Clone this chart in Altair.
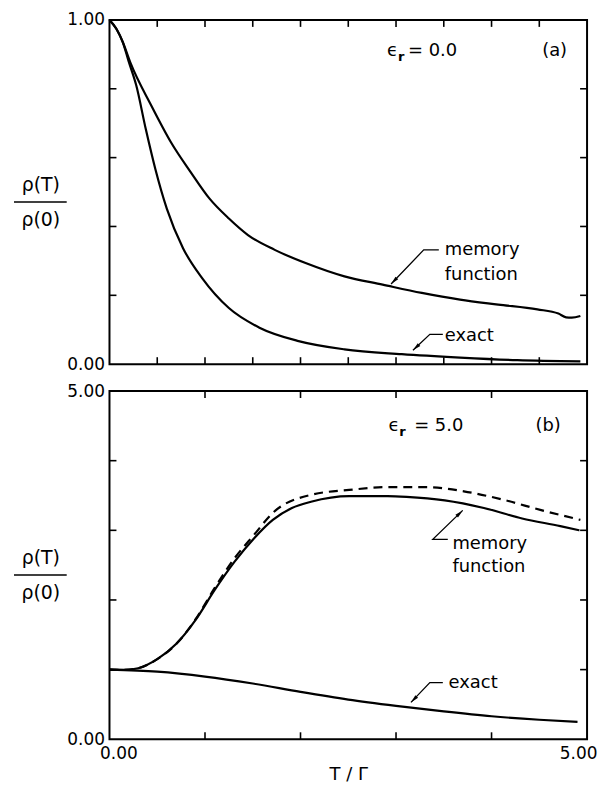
import altair as alt
import pandas as pd

FONT = "DejaVu Sans"

# ---------------- data ----------------
# Panel (a): eps_r = 0.0
a_mem_x = [0.0, 0.07, 0.14, 0.22, 0.44, 0.645, 0.85, 1.05, 1.25, 1.45, 1.73, 2.06, 2.46, 2.86, 3.27, 3.67, 4.07, 4.48, 4.70, 4.78, 4.84, 4.93]
a_mem_y = [1.0, 0.975, 0.935, 0.875, 0.75, 0.644, 0.558, 0.48, 0.423, 0.375, 0.332, 0.293, 0.255, 0.231, 0.207, 0.1875, 0.173, 0.159, 0.147, 0.136, 0.135, 0.14]
a_exact_x = [0.0, 0.07, 0.14, 0.2, 0.28, 0.38, 0.48, 0.6, 0.77, 0.97, 1.25, 1.57, 1.98, 2.46, 3.06, 3.67, 4.27, 4.93]
a_exact_y = [1.0, 0.975, 0.935, 0.88, 0.81, 0.683, 0.567, 0.452, 0.337, 0.25, 0.163, 0.106, 0.067, 0.043, 0.029, 0.019, 0.0115, 0.008]

# Panel (b): eps_r = 5.0
b_mem_x = [0.0, 0.15, 0.3, 0.5, 0.7, 0.9, 1.1, 1.31, 1.51, 1.71, 1.91, 2.11, 2.51, 2.91, 3.11, 3.51, 3.92, 4.32, 4.72, 4.92]
b_mem_y = [1.0, 0.995, 1.02, 1.15, 1.37, 1.71, 2.14, 2.55, 2.88, 3.15, 3.32, 3.41, 3.49, 3.49, 3.48, 3.43, 3.32, 3.17, 3.06, 3.0]
b_dash_x = [0.0, 0.15, 0.3, 0.5, 0.7, 0.9, 1.1, 1.31, 1.51, 1.71, 2.11, 2.51, 2.91, 3.31, 3.71, 4.12, 4.52, 4.93]
b_dash_y = [1.0, 0.995, 1.02, 1.15, 1.37, 1.72, 2.17, 2.6, 2.93, 3.25, 3.51, 3.58, 3.62, 3.62, 3.56, 3.44, 3.29, 3.15]
b_exact_x = [0.0, 0.5, 1.0, 1.5, 2.0, 2.5, 3.0, 3.5, 4.0, 4.5, 4.9]
b_exact_y = [1.0, 0.97, 0.9, 0.8, 0.68, 0.57, 0.48, 0.4, 0.33, 0.28, 0.25]

# tick positions
a_xticks = [0.5, 1.0, 1.5, 2.0, 2.5, 3.0, 3.5, 4.0, 4.5]
a_yticks = [0.2, 0.4, 0.6, 0.8]
b_xticks = [1, 2, 3, 4]
b_yticks = [1, 2, 3, 4]

# annotations (data coordinates)
a_labels = ["memory", "function", "exact", "\u03f5", "= 0.0", "(a)"]
a_lab_x = [3.51, 3.51, 3.51, 2.906, 3.125, 4.53]
a_lab_y = [0.332, 0.26, 0.081, 0.91, 0.91, 0.91]
a_sub_x, a_sub_y = [3.02], [0.893]
b_labels = ["memory", "function", "exact", "\u03f5", "= 5.0", "(b)"]
b_lab_x = [3.59, 3.59, 3.55, 2.92, 3.19, 4.46]
b_lab_y = [2.81, 2.47, 0.814, 4.5, 4.5, 4.5]
b_sub_x, b_sub_y = [3.035], [4.41]

# leader lines: (group, x, y)
a_lead_g = [0, 0, 0, 1, 1, 1]
a_lead_x = [3.448, 3.29, 2.948, 3.49, 3.354, 3.177]
a_lead_y = [0.332, 0.332, 0.2327, 0.0867, 0.0867, 0.0405]
a_tip_ang = [224, 227]
b_lead_g = [0, 0, 0, 1, 1, 1]
b_lead_x = [3.542, 3.385, 3.698, 3.49, 3.354, 3.156]
b_lead_y = [2.871, 2.871, 3.286, 0.814, 0.814, 0.529]
b_tip_ang = [46, 224]

ARROW = "M0,0L0.45,2L-0.45,2Z"


def panel(curves, dashed, ymax, xticks, yticks, labels, lx, ly, sx, sy,
          lg, lxx, lyy, angs, h, show_x, frac_y):
    W = 480
    xs = alt.Scale(domain=[0, 5], nice=False, zero=False)
    ys = alt.Scale(domain=[0, ymax], nice=False, zero=False)
    if show_x:
        xaxis = alt.Axis(values=[0, 5], format=".2f", ticks=False, tickSize=0, domain=False,
                         grid=False, labelFlush=True, labelFlushOffset=10, labelPadding=6,
                         labelFont=FONT, labelFontSize=17, labelColor="black",
                         title="T / \u0393", titlePadding=4, titleFont=FONT,
                         titleFontSize=18, titleFontWeight="normal", titleColor="black")
    else:
        xaxis = None
    yaxis = alt.Axis(values=[0, ymax], format=".2f", ticks=False, tickSize=0, domain=False,
                     grid=False, labelPadding=5, labelFont=FONT, labelFontSize=17,
                     labelColor="black", title=None)

    def X(f):
        if xaxis is None:
            return alt.X(f, type="quantitative", scale=xs, axis=None)
        return alt.X(f, type="quantitative", scale=xs, axis=xaxis)

    def Y(f):
        return alt.Y(f, type="quantitative", scale=ys, axis=yaxis)

    rows = []
    for name, xv, yv in curves:
        for i, (a, b) in enumerate(zip(xv, yv)):
            rows.append({"s": name, "i": i, "x": a, "y": b})
    df = pd.DataFrame(rows)
    layers = [alt.Chart(df).mark_line(color="black", strokeWidth=2.2,
                                      interpolate="monotone").encode(
        x=X("x"), y=Y("y"), detail="s:N", order="i:Q")]
    if dashed is not None:
        ddf = pd.DataFrame({"x": dashed[0], "y": dashed[1]})
        layers.append(alt.Chart(ddf).mark_line(color="black", strokeWidth=2.2,
                                               interpolate="monotone",
                                               strokeDash=[9, 6]).encode(x=X("x"), y=Y("y")))

    txd = pd.DataFrame({"t": xticks})
    tyd = pd.DataFrame({"t": yticks})
    TL = 7
    layers += [
        alt.Chart(txd).mark_rule(color="black", strokeWidth=1.6).encode(
            x=X("t"), y=alt.value(h), y2=alt.value(h - TL)),
        alt.Chart(txd).mark_rule(color="black", strokeWidth=1.6).encode(
            x=X("t"), y=alt.value(0), y2=alt.value(TL)),
        alt.Chart(tyd).mark_rule(color="black", strokeWidth=1.6).encode(
            y=Y("t"), x=alt.value(0), x2=alt.value(TL)),
        alt.Chart(tyd).mark_rule(color="black", strokeWidth=1.6).encode(
            y=Y("t"), x=alt.value(W), x2=alt.value(W - TL)),
    ]

    ldf = pd.DataFrame({"text": labels, "x": lx, "y": ly})
    layers.append(alt.Chart(ldf).mark_text(font=FONT, fontSize=18, align="left",
                                           baseline="middle", color="black").encode(
        x=X("x"), y=Y("y"), text="text:N"))
    sdf = pd.DataFrame({"text": ["r"], "x": sx, "y": sy})
    layers.append(alt.Chart(sdf).mark_text(font=FONT, fontSize=13, fontWeight="bold",
                                           align="left", baseline="middle",
                                           color="black").encode(
        x=X("x"), y=Y("y"), text="text:N"))

    lead = pd.DataFrame({"g": lg, "i": list(range(len(lg))), "x": lxx, "y": lyy})
    layers.append(alt.Chart(lead).mark_line(color="black", strokeWidth=1.3).encode(
        x=X("x"), y=Y("y"), detail="g:N", order="i:Q"))
    tips = pd.DataFrame({"x": [lxx[2], lxx[5]], "y": [lyy[2], lyy[5]], "a": angs})
    layers.append(alt.Chart(tips).mark_point(shape=ARROW, filled=True, color="black",
                                             opacity=1, size=70, strokeWidth=0).encode(
        x=X("x"), y=Y("y"), angle=alt.Angle("a:Q", scale=None)))

    # y-axis label written as a fraction
    fr = alt.Data(values=[{"top": "\u03c1(T)", "bot": "\u03c1(0)"}])
    layers += [
        alt.Chart(fr).mark_text(font=FONT, fontSize=19, align="center", baseline="middle",
                                color="black").encode(
            text="top:N", x=alt.value(-69), y=alt.value(frac_y - 17)),
        alt.Chart(fr).mark_text(font=FONT, fontSize=19, align="center", baseline="middle",
                                color="black").encode(
            text="bot:N", x=alt.value(-69), y=alt.value(frac_y + 18)),
        alt.Chart(fr).mark_rule(color="black", strokeWidth=1.5).encode(
            x=alt.value(-96), x2=alt.value(-43), y=alt.value(frac_y)),
    ]
    return alt.layer(*layers).properties(width=W, height=h)


pa = panel([("memory", a_mem_x, a_mem_y), ("exact", a_exact_x, a_exact_y)], None, 1.0,
           a_xticks, a_yticks, a_labels, a_lab_x, a_lab_y, a_sub_x, a_sub_y,
           a_lead_g, a_lead_x, a_lead_y, a_tip_ang, 346, False, 183)
pb = panel([("memory", b_mem_x, b_mem_y), ("exact", b_exact_x, b_exact_y)],
           (b_dash_x, b_dash_y), 5.0,
           b_xticks, b_yticks, b_labels, b_lab_x, b_lab_y, b_sub_x, b_sub_y,
           b_lead_g, b_lead_x, b_lead_y, b_tip_ang, 350, True, 185)

chart = alt.vconcat(pa, pb, spacing=27, bounds="flush").properties(
    padding={"left": 4, "top": 0, "right": 0, "bottom": 0}
).configure_view(stroke="black", strokeWidth=2)

chart.save("out.html", embed_options={"renderer": "svg", "actions": False})
